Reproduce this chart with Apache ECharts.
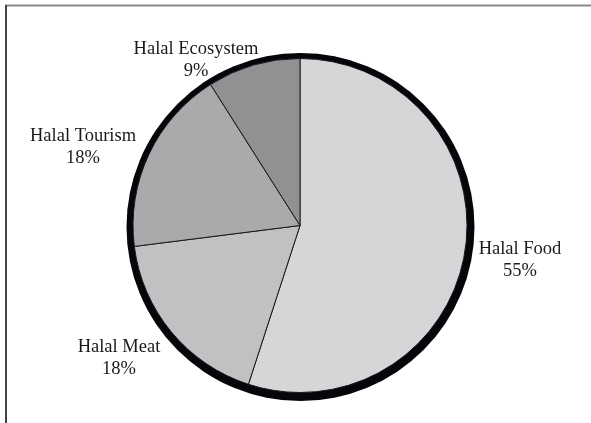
<!DOCTYPE html>
<html>
<head>
<meta charset="utf-8">
<script src="https://cdn.jsdelivr.net/npm/echarts@6/dist/echarts.min.js"></script>
<style>html,body{margin:0;padding:0;background:#fff}#c{width:591px;height:423px}</style>
</head>
<body>
<div id="c"></div>
<script>
const categories = ['Halal Food', 'Halal Meat', 'Halal Tourism', 'Halal Ecosystem'];
const values = [55, 18, 18, 9];
const colors = ['#d5d6d8', '#c0c1c3', '#a9aaac', '#909193'];

// label anchor points (layout config)
const labelPos = [[520, 260], [119, 358], [83, 147], [196, 60]];

const chart = echarts.init(document.getElementById('c'), null, {renderer: 'canvas'});
chart.setOption({
  animation: false,
  backgroundColor: '#fff',
  graphic: [
    {type: 'line', shape: {x1: 5, y1: 5.5, x2: 591, y2: 5.5}, style: {stroke: '#8a8a8a', lineWidth: 2}},
    {type: 'line', shape: {x1: 6, y1: 5, x2: 6, y2: 423}, style: {stroke: '#444', lineWidth: 2}}
  ],
  series: [
    {
      type: 'pie',
      silent: true,
      center: [300.5, 227],
      radius: 174,
      startAngle: 90,
      label: {show: false},
      labelLine: {show: false},
      itemStyle: {color: '#05060a', borderWidth: 0},
      data: [{name: 'ring', value: values.reduce((a, b) => a + b, 0)}]
    },
    {
      type: 'pie',
      center: [300, 225.5],
      radius: 167,
      startAngle: 90,
      clockwise: true,
      itemStyle: {borderColor: '#1a1a1a', borderWidth: 1},
      label: {
        show: true,
        position: 'outside',
        formatter: p => p.name + '\n' + p.value + '%',
        fontFamily: 'Liberation Serif',
        fontSize: 18.5,
        lineHeight: 22,
        color: '#1a1a1a',
        align: 'center',
        overflow: 'none',
        width: 200
      },
      labelLine: {show: false},
      labelLayout: p => ({
        x: labelPos[p.dataIndex][0],
        y: labelPos[p.dataIndex][1],
        align: 'center',
        verticalAlign: 'middle'
      }),
      data: categories.map((c, i) => ({name: c, value: values[i], itemStyle: {color: colors[i]}}))
    }
  ]
});
</script>
</body>
</html>
